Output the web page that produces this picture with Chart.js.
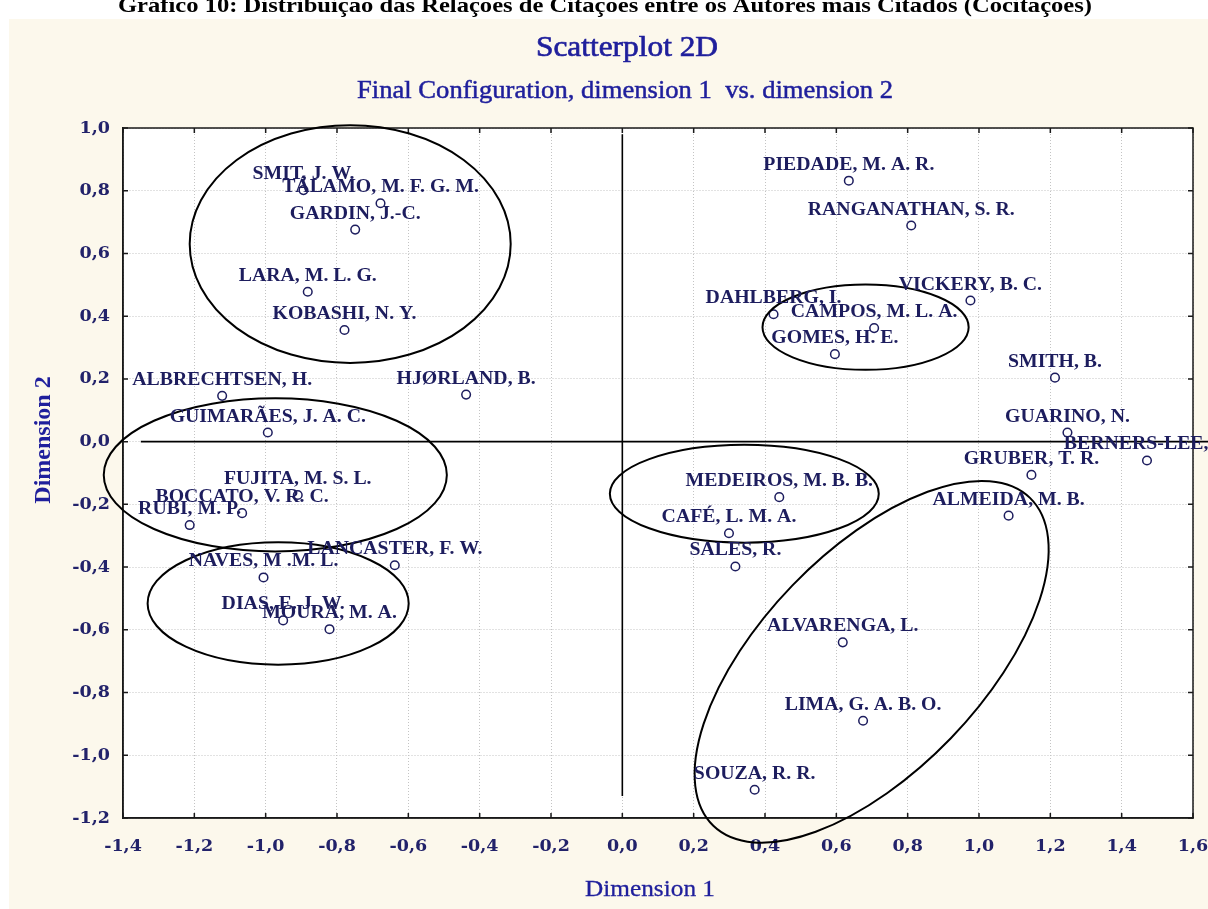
<!DOCTYPE html>
<html>
<head>
<meta charset="utf-8">
<script src="https://cdn.jsdelivr.net/npm/chart.js@4.4.1/dist/chart.umd.min.js"></script>
<style>
  html, body { margin: 0; padding: 0; background: #ffffff; }
  #wrap { position: relative; width: 1208px; height: 909px; overflow: hidden; }
  canvas { display: block; }
</style>
</head>
<body>
<div id="wrap"><canvas id="c" width="1208" height="909"></canvas></div>
<script>
// ---------------- DATA ----------------
const authors = [
  "SMIT, J. W.", "TÁLAMO, M. F. G. M.", "GARDIN, J.-C.", "LARA, M. L. G.", "KOBASHI, N. Y.",
  "ALBRECHTSEN, H.", "HJØRLAND, B.", "GUIMARÃES, J. A. C.", "FUJITA, M. S. L.", "BOCCATO, V. R. C.",
  "RUBI, M. P.", "LANCASTER, F. W.", "NAVES, M .M. L.", "DIAS, E. J. W.", "MOURA, M. A.",
  "PIEDADE, M. A. R.", "RANGANATHAN, S. R.", "VICKERY, B. C.", "DAHLBERG, I.", "CAMPOS, M. L. A.",
  "GOMES, H. E.", "SMITH, B.", "GUARINO, N.", "BERNERS-LEE, T.", "GRUBER, T. R.",
  "MEDEIROS, M. B. B.", "ALMEIDA, M. B.", "CAFÉ, L. M. A.", "SALES, R.", "ALVARENGA, L.",
  "LIMA, G. A. B. O.", "SOUZA, R. R."
];
const dimension1 = [
  -0.894, -0.678, -0.749, -0.882, -0.779,
  -1.122, -0.438, -0.994, -0.910, -1.066,
  -1.213, -0.638, -1.006, -0.951, -0.821,
   0.635,  0.810,  0.976,  0.424,  0.706,
   0.596,  1.213,  1.248,  1.471,  1.147,
   0.440,  1.083,  0.299,  0.317,  0.618,
   0.675,  0.371
];
const dimension2 = [
   0.802,  0.760,  0.676,  0.478,  0.356,
   0.146,  0.150,  0.029, -0.170, -0.228,
  -0.266, -0.394, -0.433, -0.570, -0.598,
   0.832,  0.689,  0.450,  0.406,  0.362,
   0.279,  0.204,  0.029, -0.060, -0.106,
  -0.177, -0.236, -0.292, -0.398, -0.640,
  -0.890, -1.110
];
// axis ranges / ticks
const xRange = [-1.4, 1.6];
const yRange = [-1.2, 1.0];
const tickStep = 0.2;
// reference lines through the origin (data units)
const zeroLineH = [{x: -1.35, y: 0}, {x: 1.65, y: 0}];
const zeroLineV = [{x: 0, y: 0.98}, {x: 0, y: -1.13}];
// grouping ellipses (data units: centre, semi-axes, rotation in degrees)
const ellipseCx  = [-0.763, -0.973, -0.965, 0.682,  0.342,  0.699];
const ellipseCy  = [ 0.630, -0.106, -0.516, 0.365, -0.166, -0.702];
const ellipseRx  = [ 0.450,  0.481,  0.366, 0.289,  0.377,  0.639];
const ellipseRy  = [ 0.379,  0.244,  0.195, 0.136,  0.156,  0.351];
const ellipseRot = [ 0, 0, 0, 0, 0, -46];
// texts
const headerText = "Gráfico 10: Distribuição das Relações de Citações entre os Autores mais Citados (Cocitações)";
const titleText = "Scatterplot 2D";
const subtitleText = "Final Configuration, dimension 1  vs. dimension 2";
const xTitle = "Dimension 1";
const yTitle = "Dimension 2";

// ---------------- HELPERS ----------------
function fmt(v) {
  if (Math.abs(v) < 1e-9) v = 0;
  return v.toFixed(1).replace('.', ',');
}
function drawStretched(ctx, text, x, y, font, color, targetWidth, weight) {
  ctx.save();
  ctx.font = font;
  const w = ctx.measureText(text).width;
  const sx = targetWidth ? targetWidth / w : 1;
  ctx.translate(x, y);
  ctx.scale(sx, 1);
  ctx.textAlign = 'center';
  ctx.textBaseline = 'alphabetic';
  ctx.fillStyle = color;
  ctx.fillText(text, 0, 0);
  if (weight) {
    ctx.strokeStyle = color;
    ctx.lineWidth = weight;
    ctx.strokeText(text, 0, 0);
  }
  ctx.restore();
}

const CREAM = '#fcf8ec';
const NAVY = '#1d1d5e';
const TICKNAVY = '#22226a';
const BLUE = '#1f1f9c';

const decor = {
  id: 'decor',
  beforeDraw(chart) {
    const ctx = chart.ctx;
    const a = chart.chartArea;
    ctx.save();
    ctx.fillStyle = '#ffffff';
    ctx.fillRect(0, 0, chart.width, chart.height);
    ctx.fillStyle = CREAM;
    ctx.fillRect(9, 19, chart.width - 9, chart.height - 19);
    ctx.fillStyle = '#ffffff';
    ctx.fillRect(a.left, a.top, a.right - a.left, a.bottom - a.top);
    ctx.restore();
    // cut-off document caption at the very top
    drawStretched(ctx, headerText, 605, 12, 'bold 21px "Liberation Serif"', '#000000', 974);
    // titles
    drawStretched(ctx, titleText, 627, 56, '30px "Liberation Serif"', BLUE, 182, 0.7);
    drawStretched(ctx, subtitleText, 625, 98, '26px "Liberation Serif"', BLUE, 536, 0.5);
    // axis titles
    drawStretched(ctx, xTitle, 650, 896, '24px "Liberation Serif"', BLUE, 130, 0.3);
    ctx.save();
    ctx.translate(50, 440);
    ctx.rotate(-Math.PI / 2);
    ctx.font = 'bold 24px "Liberation Serif"';
    ctx.fillStyle = BLUE;
    ctx.textAlign = 'center';
    ctx.textBaseline = 'alphabetic';
    ctx.fillText(yTitle, 0, 0);
    ctx.restore();
  },
  afterDraw(chart) {
    const ctx = chart.ctx;
    const a = chart.chartArea;
    const xs = chart.scales.x, ys = chart.scales.y;
    ctx.save();
    // frame
    ctx.strokeStyle = '#1a1a1a';
    ctx.lineWidth = 1.5;
    ctx.strokeRect(a.left, a.top, a.right - a.left, a.bottom - a.top);
    // inward tick marks
    ctx.beginPath();
    xs.ticks.forEach(t => {
      const px = xs.getPixelForValue(t.value);
      ctx.moveTo(px, a.bottom); ctx.lineTo(px, a.bottom - 5);
      ctx.moveTo(px, a.top); ctx.lineTo(px, a.top + 5);
    });
    ys.ticks.forEach(t => {
      const py = ys.getPixelForValue(t.value);
      ctx.moveTo(a.left, py); ctx.lineTo(a.left + 5, py);
      ctx.moveTo(a.right, py); ctx.lineTo(a.right - 5, py);
    });
    ctx.stroke();
    // ellipses
    const pxPerX = Math.abs(xs.getPixelForValue(1) - xs.getPixelForValue(0));
    const pxPerY = Math.abs(ys.getPixelForValue(1) - ys.getPixelForValue(0));
    ctx.strokeStyle = '#000000';
    ctx.lineWidth = 2;
    for (let i = 0; i < ellipseCx.length; i++) {
      ctx.beginPath();
      ctx.ellipse(xs.getPixelForValue(ellipseCx[i]), ys.getPixelForValue(ellipseCy[i]),
        ellipseRx[i] * pxPerX, ellipseRy[i] * pxPerY, ellipseRot[i] * Math.PI / 180, 0, Math.PI * 2);
      ctx.stroke();
    }
    // point labels
    const meta = chart.getDatasetMeta(0);
    ctx.font = 'bold 18px "Liberation Serif"';
    ctx.fillStyle = NAVY;
    ctx.textAlign = 'center';
    ctx.textBaseline = 'alphabetic';
    meta.data.forEach((el, i) => {
      ctx.save();
      ctx.translate(el.x, el.y - 11);
      ctx.scale(1.1, 1);
      ctx.fillText(authors[i], 0, 0);
      ctx.restore();
    });
    ctx.restore();
  }
};

const points = dimension1.map((x, i) => ({x: x, y: dimension2[i]}));

new Chart(document.getElementById('c'), {
  type: 'scatter',
  data: {
    datasets: [
      {
        label: 'Autores',
        data: points,
        pointStyle: 'circle',
        pointRadius: 4.3,
        pointHoverRadius: 4.3,
        pointBorderWidth: 1.5,
        borderColor: NAVY,
        backgroundColor: '#ffffff',
        order: 0
      },
      {
        type: 'line',
        label: 'eixo h',
        data: zeroLineH,
        borderColor: '#000000',
        borderWidth: 1.6,
        pointRadius: 0,
        showLine: true,
        fill: false,
        clip: false,
        order: 1
      },
      {
        type: 'line',
        label: 'eixo v',
        data: zeroLineV,
        borderColor: '#000000',
        borderWidth: 1.6,
        pointRadius: 0,
        showLine: true,
        fill: false,
        clip: false,
        order: 1
      }
    ]
  },
  options: {
    responsive: false,
    devicePixelRatio: 1,
    animation: false,
    events: [],
    layout: { padding: { top: 128, right: 15, left: 0, bottom: 0 } },
    plugins: {
      legend: { display: false },
      tooltip: { enabled: false },
      title: { display: false }
    },
    scales: {
      x: {
        type: 'linear',
        min: xRange[0], max: xRange[1],
        afterFit(scale) { scale.height = 91; scale.paddingLeft = 0; scale.paddingRight = 0; },
        grid: { color: '#c4c4c4', lineWidth: 1, drawTicks: false },
        border: { display: true, color: '#1a1a1a', width: 1.5, dash: [1, 2] },
        ticks: {
          stepSize: tickStep,
          padding: 18,
          color: TICKNAVY,
          font: { family: 'DejaVu Serif', weight: 'bold', size: 17.5 },
          callback: (v) => fmt(v),
          maxRotation: 0, autoSkip: false
        }
      },
      y: {
        type: 'linear',
        min: yRange[0], max: yRange[1],
        afterFit(scale) { scale.width = 123; scale.paddingTop = 0; scale.paddingBottom = 0; },
        grid: { color: '#c4c4c4', lineWidth: 1, drawTicks: false },
        border: { display: true, color: '#1a1a1a', width: 1.5, dash: [1, 2] },
        ticks: {
          stepSize: tickStep,
          padding: 13,
          color: TICKNAVY,
          font: { family: 'DejaVu Serif', weight: 'bold', size: 17.5 },
          callback: (v) => fmt(v),
          autoSkip: false
        }
      }
    }
  },
  plugins: [decor]
});
</script>
</body>
</html>
